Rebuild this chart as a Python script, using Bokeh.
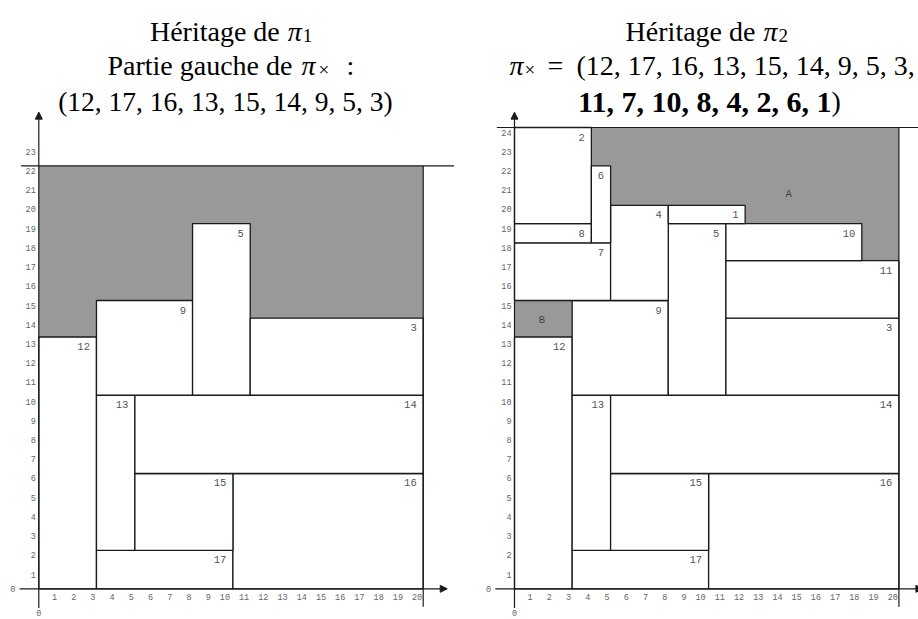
from bokeh.plotting import figure
from bokeh.layouts import row
from bokeh.models import Range1d, ColumnDataSource, Arrow, NormalHead
from bokeh.embed import file_html
from bokeh.resources import INLINE
from bokeh.core.properties import value

# ---------------- data ----------------
# rectangles placed by the left part of pi_x (inherited from pi_1)
left_ids = [12, 17, 16, 13, 15, 14, 9, 5, 3]
left_x0 = [0, 3, 10.1, 3, 5, 5, 3, 8, 11]
left_x1 = [3, 10.1, 20, 5, 10.1, 20, 8, 11, 20]
left_y0 = [0, 0, 0, 2, 2, 6, 10.07, 10.07, 10.07]
left_y1 = [13.1, 2, 6, 10.07, 6, 10.07, 15, 19, 14.08]

# rectangles added by the right part (inherited from pi_2)
extra_ids = [11, 7, 10, 8, 4, 2, 6, 1]
extra_x0 = [11, 0, 11, 0, 5, 0, 4, 8]
extra_x1 = [20, 5, 18.07, 4, 8, 4, 5, 12]
extra_y0 = [14.08, 15, 17.07, 18, 15, 19, 18, 19]
extra_y1 = [17.07, 18, 19, 19, 19.95, 24, 22, 19.95]

strip_width = 20
height_left = 22
height_right = 24

x_ticks = [1, 2, 3, 4, 5, 6, 7, 8, 9, 10, 11, 12, 13, 14, 15, 16, 17, 18, 19, 20]
y_ticks_left = [1, 2, 3, 4, 5, 6, 7, 8, 9, 10, 11, 12, 13, 14, 15, 16, 17, 18, 19, 20, 21, 22, 23]
y_ticks_right = [1, 2, 3, 4, 5, 6, 7, 8, 9, 10, 11, 12, 13, 14, 15, 16, 17, 18, 19, 20, 21, 22, 23, 24]

region_names = ["A", "B"]
region_x = [14.27, 1.42]
region_y = [20.55, 14.0]

# ---------------- layout constants ----------------
PX = 19.22          # pixels per unit
FIG_H = 619
LEFT_W = 468
RIGHT_W = 450
ORIGIN_PY = 588.3   # pixel of y=0 from the top of the figure
ORIGIN_PX_LEFT = 38.3
ORIGIN_PX_RIGHT = 46.0

SERIF = value("Liberation Serif")
MONO = value("Liberation Mono")
LINE = "#1a1a1a"
GRAY = "#999999"


def make_fig(width, origin_px):
    p = figure(width=width, height=FIG_H,
               x_range=Range1d(-origin_px / PX, (width - origin_px) / PX),
               y_range=Range1d(-(FIG_H - ORIGIN_PY) / PX, ORIGIN_PY / PX),
               x_axis_type=None, y_axis_type=None,
               toolbar_location=None, output_backend="svg", min_border=0)
    p.outline_line_color = None
    p.background_fill_color = "white"
    p.border_fill_color = "white"
    return p


def txt(p, x, y, s, size, style="normal", align="left", base="alphabetic",
        xo=0, yo=0, font=SERIF, color="black"):
    p.text(x=[x], y=[y], text=[s], text_font=font, text_font_size=size,
           text_font_style=style, text_align=align, text_baseline=base,
           x_offset=xo, y_offset=yo, text_color=color)


def draw_panel(p, ids, x0, x1, y0, y1, H, yticks):
    # free space (gray)
    p.quad(left=[0], right=[strip_width], bottom=[0], top=[H],
           fill_color=GRAY, line_color=None)
    src = ColumnDataSource(dict(x0=x0, x1=x1, y0=y0, y1=y1,
                                lab=[str(i) for i in ids]))
    p.quad(left="x0", right="x1", bottom="y0", top="y1", source=src,
           fill_color="white", line_color=LINE, line_width=1.3)
    p.text(x="x1", y="y1", text="lab", source=src, text_align="right",
           text_baseline="middle", x_offset=-6.5, y_offset=9.5,
           text_font=MONO, text_font_size="10.5px", text_color="#555555")
    # strip border lines
    p.segment(x0=[-0.92], y0=[H], x1=[strip_width + 1.6], y1=[H],
              line_color=LINE, line_width=1.2)
    p.segment(x0=[strip_width], y0=[-0.93], x1=[strip_width], y1=[H],
              line_color=LINE, line_width=1.2)
    # axes with arrows
    p.add_layout(Arrow(x_start=-1.0, y_start=0, x_end=strip_width + 1.25, y_end=0,
                       line_color=LINE, line_width=1.2,
                       end=NormalHead(size=7, fill_color=LINE, line_color=LINE)))
    p.add_layout(Arrow(x_start=0, y_start=-1.0, x_end=0, y_end=24.8,
                       line_color=LINE, line_width=1.2,
                       end=NormalHead(size=7, fill_color=LINE, line_color=LINE)))
    # tick labels
    p.text(x=x_ticks, y=[0] * len(x_ticks), text=[str(t) for t in x_ticks],
           text_align="right", text_baseline="middle", x_offset=-1, y_offset=8,
           text_font=MONO, text_font_size="8.5px", text_color="#666666")
    p.text(x=[0] * len(yticks), y=yticks, text=[str(t) for t in yticks],
           text_align="right", text_baseline="middle", x_offset=-3, y_offset=5,
           text_font=MONO, text_font_size="8.5px", text_color="#666666")
    p.text(x=[-1.35, 0], y=[0, -1.25], text=["0", "0"], text_align="center",
           text_baseline="middle", text_font=MONO, text_font_size="8.5px",
           text_color="#666666")


# ---------------- left panel ----------------
p1 = make_fig(LEFT_W, ORIGIN_PX_LEFT)
draw_panel(p1, left_ids, left_x0, left_x1, left_y0, left_y1, height_left, y_ticks_left)

txt(p1, 12.9, 29.01, "Héritage de ", "28px", align="right")
txt(p1, 12.9, 29.01, "π", "28px", style="italic", xo=1)
txt(p1, 12.9, 29.01, "1", "19px", xo=16, yo=4)
txt(p1, 13.56, 27.23, "Partie gauche de ", "28px", align="right")
txt(p1, 13.56, 27.23, "π", "28px", style="italic", xo=2)
txt(p1, 13.56, 27.23, "×", "19px", xo=19, yo=4)
txt(p1, 13.56, 27.23, ":", "28px", xo=47)
txt(p1, 9.71, 25.35, "(" + ", ".join(str(i) for i in left_ids) + ")", "27.5px",
    align="center")

# ---------------- right panel ----------------
p2 = make_fig(RIGHT_W, ORIGIN_PX_RIGHT)
draw_panel(p2, left_ids + extra_ids, left_x0 + extra_x0, left_x1 + extra_x1,
           left_y0 + extra_y0, left_y1 + extra_y1, height_right, y_ticks_right)
p2.text(x=region_x, y=region_y, text=region_names, text_align="center",
        text_baseline="middle", text_font=MONO, text_font_size="10.5px",
        text_color="#444444")

txt(p2, 12.9, 29.01, "Héritage de ", "28px", align="right")
txt(p2, 12.9, 29.01, "π", "28px", style="italic", xo=1)
txt(p2, 12.9, 29.01, "2", "19px", xo=16, yo=4)
txt(p2, 1.61, 27.23, "π", "28px", style="italic", align="right", xo=-22)
txt(p2, 1.61, 27.23, "×", "19px", xo=-21, yo=4)
txt(p2, 1.61, 27.23, "=", "28px", xo=2)
txt(p2, 1.61, 27.23, "(" + ", ".join(str(i) for i in left_ids) + ",", "28px", xo=31)
txt(p2, 16.49, 25.35, ", ".join(str(i) for i in extra_ids), "30px", style="bold",
    align="right")
txt(p2, 16.49, 25.35, ")", "28px")

layout = row(p1, p2, spacing=0)
open("out.html", "w").write(file_html(layout, INLINE))
